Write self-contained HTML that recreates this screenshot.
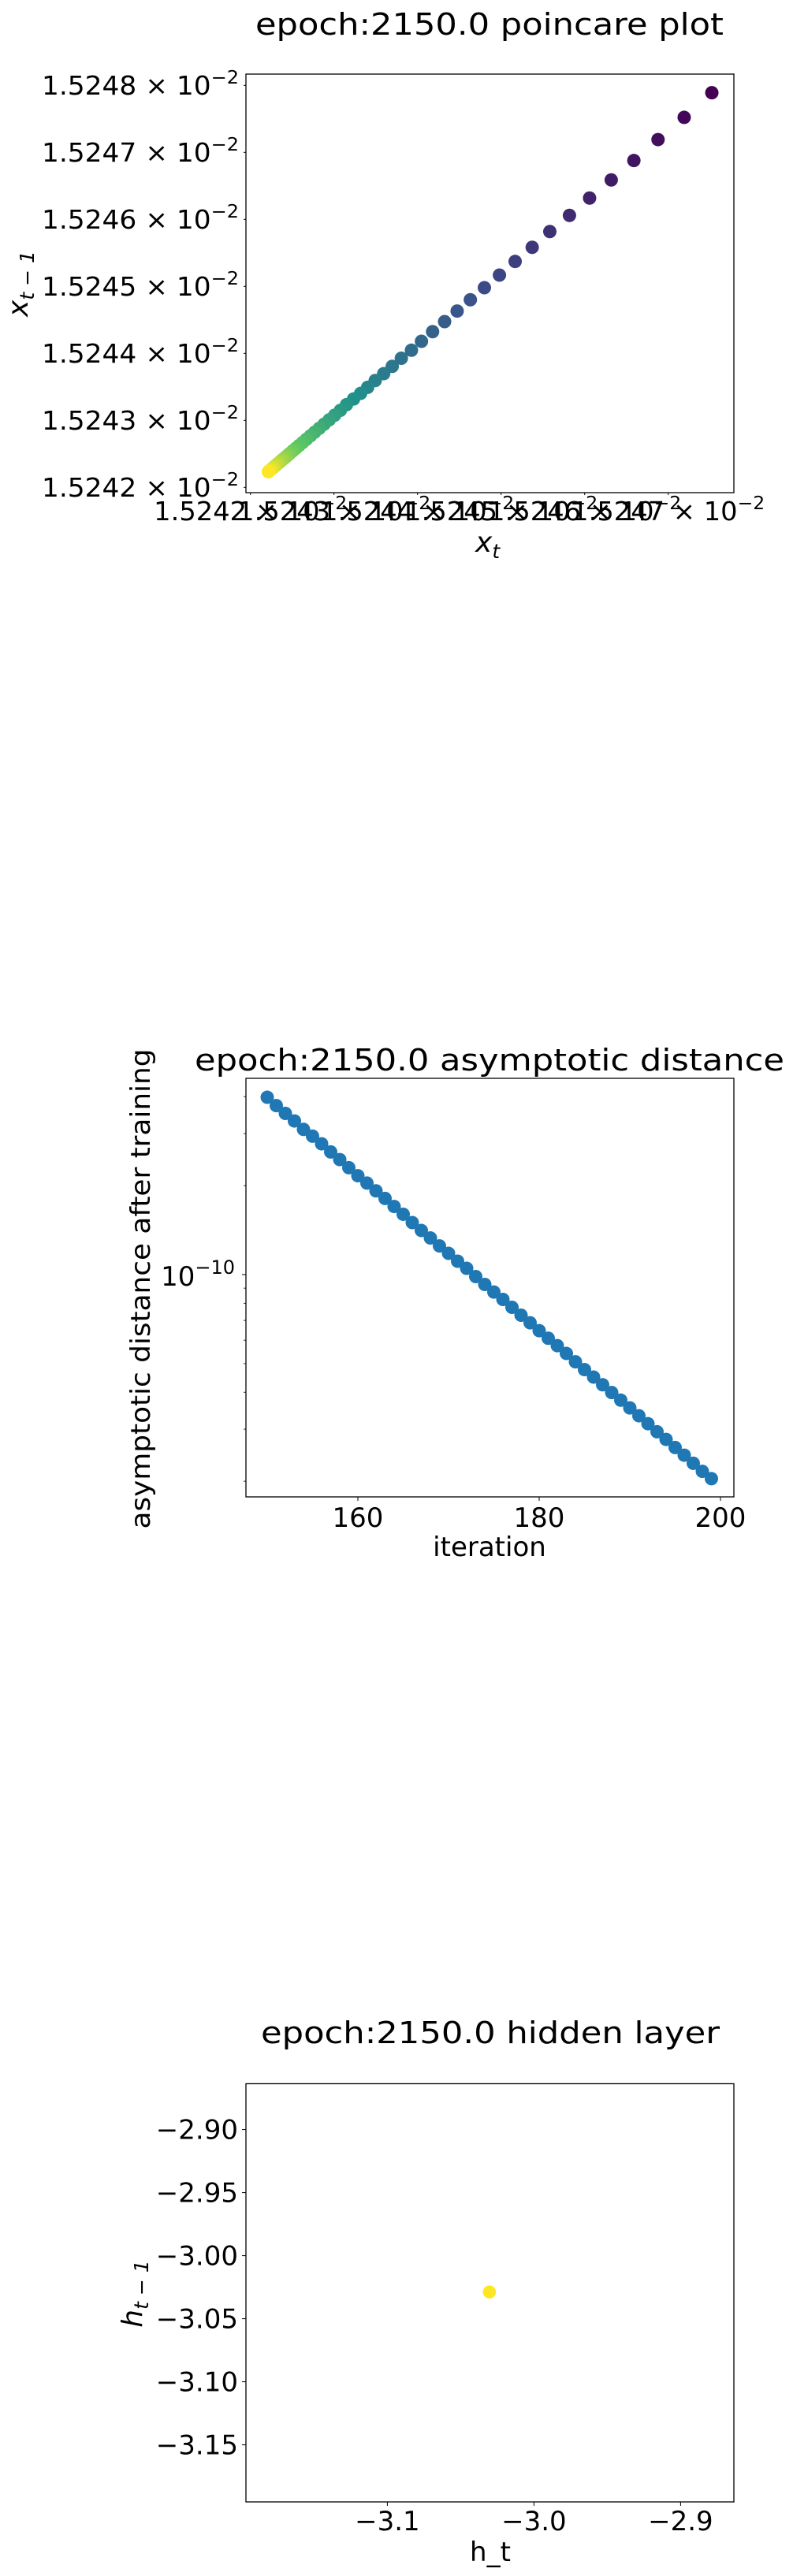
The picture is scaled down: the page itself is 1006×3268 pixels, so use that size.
<!DOCTYPE html>
<html><head><meta charset="utf-8"><title>epoch 2150 plots</title>
<style>
html,body{margin:0;padding:0;background:#fff;}
svg{display:block;font-family:"DejaVu Sans","Liberation Sans",sans-serif;}
</style></head>
<body>
<svg id="fig" width="1006" height="3268" viewBox="0 0 1006 3268" xmlns="http://www.w3.org/2000/svg">
<rect width="1006" height="3268" fill="#fff"/>
<!-- Plot 1 -->
<g>
<text x="621" y="44" font-size="38" text-anchor="middle" textLength="594" lengthAdjust="spacingAndGlyphs">epoch:2150.0 poincare plot</text>
<g id="p1ticks"></g>
<g id="p1pts"></g>
<rect x="312" y="94" width="619" height="531" fill="none" stroke="#000" stroke-width="1.3"/>
<text x="603" y="700" font-size="36" font-style="italic">x<tspan font-size="25" dy="8">t</tspan></text>
<text transform="translate(35,360) rotate(-90)" font-size="36" font-style="italic" text-anchor="middle">x<tspan font-size="25" dy="8">t − 1</tspan></text>
</g>
<!-- Plot 2 -->
<g>
<text x="621" y="1358" font-size="38" text-anchor="middle" textLength="748" lengthAdjust="spacingAndGlyphs">epoch:2150.0 asymptotic distance</text>
<g id="p2ticks"></g>
<g id="p2pts"></g>
<rect x="312" y="1368" width="619" height="531" fill="none" stroke="#000" stroke-width="1.3"/>
<text x="621" y="1974" font-size="34" text-anchor="middle">iteration</text>
<text transform="translate(190,1635) rotate(-90)" font-size="34" text-anchor="middle" textLength="609" lengthAdjust="spacingAndGlyphs">asymptotic distance after training</text>
</g>
<!-- Plot 3 -->
<g>
<text x="622" y="2592" font-size="38" text-anchor="middle" textLength="582" lengthAdjust="spacingAndGlyphs">epoch:2150.0 hidden layer</text>
<g id="p3ticks"></g>
<g id="p3pts"></g>
<rect x="312" y="2643.5" width="619" height="530.5" fill="none" stroke="#000" stroke-width="1.3"/>
<text x="622" y="3249" font-size="34" text-anchor="middle">h_t</text>
<text transform="translate(180,2910) rotate(-90)" font-size="36" font-style="italic" text-anchor="middle">h<tspan font-size="25" dy="8">t − 1</tspan></text>
</g>
</svg>
<script>
// ---------- data ----------
const poincareSeries = [1.5247890,1.5247522,1.5247191,1.5246878,1.5246589,1.5246318,1.5246059,1.5245818,1.5245583,1.5245372,1.5245168,1.5244980,1.5244800,1.5244632,1.5244474,1.5244324,1.5244180,1.5244047,1.5243927,1.5243806,1.5243697,1.5243595,1.5243493,1.5243403,1.5243319,1.5243234,1.5243150,1.5243077,1.5243008,1.5242943,1.5242882,1.5242824,1.5242769,1.5242718,1.5242670,1.5242625,1.5242583,1.5242543,1.5242505,1.5242470,1.5242438,1.5242407,1.5242377,1.5242350,1.5242323,1.5242299,1.5242276,1.5242255,1.5242234,1.5242215];
const poincareXTicks = [1.5242,1.5243,1.5244,1.5245,1.5246,1.5247];
const poincareXTickLabels = ["1.5242","1.5243","1.5244","1.5245","1.5246","1.5247"];
const poincareYTicks = [1.5242,1.5243,1.5244,1.5245,1.5246,1.5247,1.5248];
const poincareYTickLabels = ["1.5242","1.5243","1.5244","1.5245","1.5246","1.5247","1.5248"];

const iterStart = 150;
const asymDistance = [3.98e-10,3.73e-10,3.51e-10,3.31e-10,3.10e-10,2.94e-10,2.77e-10,2.60e-10,2.45e-10,2.30e-10,2.16e-10,2.04e-10,1.92e-10,1.81e-10,1.70e-10,1.60e-10,1.50e-10,1.41e-10,1.33e-10,1.25e-10,1.18e-10,1.11e-10,1.05e-10,9.85e-11,9.26e-11,8.73e-11,8.24e-11,7.75e-11,7.29e-11,6.87e-11,6.46e-11,6.09e-11,5.75e-11,5.41e-11,5.07e-11,4.77e-11,4.50e-11,4.24e-11,3.99e-11,3.76e-11,3.54e-11,3.33e-11,3.13e-11,2.94e-11,2.77e-11,2.60e-11,2.45e-11,2.30e-11,2.16e-11,2.04e-11];
const asymXTicks = [160,180,200];
const asymYMajor = [1e-10];
const asymYMinor = [2e-11,3e-11,4e-11,5e-11,6e-11,7e-11,8e-11,9e-11,2e-10,3e-10,4e-10];

const hiddenX = [-3.0304];
const hiddenY = [-3.0288];
const hiddenXTicks = [-3.1,-3.0,-2.9];
const hiddenXTickLabels = ["−3.1","−3.0","−2.9"];
const hiddenYTicks = [-2.90,-2.95,-3.00,-3.05,-3.10,-3.15];
const hiddenYTickLabels = ["−2.90","−2.95","−3.00","−3.05","−3.10","−3.15"];

// ---------- helpers ----------
const NS = "http://www.w3.org/2000/svg";
function mk(tag, attrs, parent){const e=document.createElementNS(NS,tag);for(const k in attrs)e.setAttribute(k,attrs[k]);parent.appendChild(e);return e;}
const viridisStops=[[68,1,84],[59,82,139],[33,145,140],[94,201,98],[253,231,37]];
function viridis(t){t=Math.max(0,Math.min(1,t));const s=t*4;const i=Math.min(3,Math.floor(s));const f=s-i;const a=viridisStops[i],b=viridisStops[i+1];
return "rgb("+a.map((v,k)=>Math.round(v+(b[k]-v)*f)).join(",")+")";}

// ---------- plot 1 ----------
const p1x = v => 317.7 + (v-1.5242)/0.0001*106;
const p1y = v => 618.3 - (v-1.5242)/0.0001*85;
const g1t=document.getElementById('p1ticks'), g1p=document.getElementById('p1pts');
poincareXTicks.forEach((v,i)=>{
  const x=p1x(v);
  const l=mk('line',{x1:x,x2:x,y1:625,y2:628,stroke:'#000','stroke-width':1},g1t);
  
  
  const t=mk('text',{x:x,y:660,'font-size':33,'text-anchor':'middle',textLength:245,lengthAdjust:'spacingAndGlyphs'},g1t);
  
  
  t.innerHTML=poincareXTickLabels[i]+' × 10<tspan font-size="23" dy="-14">−2</tspan>';
});
poincareYTicks.forEach((v,i)=>{
  const y=p1y(v);
  const l=mk('line',{x1:309,x2:312,y1:y,y2:y,stroke:'#000','stroke-width':1},g1t);
  
  
  const t=mk('text',{x:303,y:y+11.5,'font-size':33,'text-anchor':'end',textLength:250,lengthAdjust:'spacingAndGlyphs'},g1t);
  
  
  t.innerHTML=poincareYTickLabels[i]+' × 10<tspan font-size="23" dy="-14">−2</tspan>';
});
const nP=poincareSeries.length-1;
for(let i=0;i<nP;i++){
  const c=mk('circle',{cx:p1x(poincareSeries[i+1]),cy:p1y(poincareSeries[i]),r:8.5,fill:viridis(i/(nP-1))},g1p);
  
  
}

// ---------- plot 2 ----------
const p2x = it => 454 + (it-160)*11.5;
const p2y = v => 1617 - (Math.log10(v)+10)*375;
const g2t=document.getElementById('p2ticks'), g2p=document.getElementById('p2pts');
asymXTicks.forEach(v=>{
  const x=p2x(v);
  const l=mk('line',{x1:x,x2:x,y1:1899,y2:1904,stroke:'#000','stroke-width':1},g2t);
  
  
  const t=mk('text',{x:x,y:1937,'font-size':34,'text-anchor':'middle'},g2t);
  
  
  t.textContent=String(v);
});
asymYMajor.forEach(v=>{
  const y=p2y(v);
  const l=mk('line',{x1:307,x2:312,y1:y,y2:y,stroke:'#000','stroke-width':1},g2t);
  
  
  const t=mk('text',{x:298,y:y+14,'font-size':34,'text-anchor':'end'},g2t);
  
  
  t.innerHTML='10<tspan font-size="24" dy="-15">−10</tspan>';
});
asymYMinor.forEach(v=>{
  const y=p2y(v);
  const l=mk('line',{x1:309,x2:312,y1:y,y2:y,stroke:'#000','stroke-width':0.8},g2t);
  
  
});
asymDistance.forEach((v,i)=>{
  const c=mk('circle',{cx:p2x(iterStart+i),cy:p2y(v),r:8.5,fill:'#1f77b4'},g2p);
  
  
});

// ---------- plot 3 ----------
const p3x = v => 677.4 + (v+3.0)*1860;
const p3y = v => 2861.6 - (v+3.0)*1600;
const g3t=document.getElementById('p3ticks'), g3p=document.getElementById('p3pts');
hiddenXTicks.forEach((v,i)=>{
  const x=p3x(v);
  const l=mk('line',{x1:x,x2:x,y1:3174,y2:3179,stroke:'#000','stroke-width':1},g3t);
  
  
  const t=mk('text',{x:x,y:3210,'font-size':34,'text-anchor':'middle'},g3t);
  
  
  t.textContent=hiddenXTickLabels[i];
});
hiddenYTicks.forEach((v,i)=>{
  const y=p3y(v);
  const l=mk('line',{x1:307,x2:312,y1:y,y2:y,stroke:'#000','stroke-width':1},g3t);
  
  
  const t=mk('text',{x:302,y:y+12,'font-size':34,'text-anchor':'end'},g3t);
  
  
  t.textContent=hiddenYTickLabels[i];
});
hiddenX.forEach((v,i)=>{
  const c=mk('circle',{cx:p3x(v),cy:p3y(hiddenY[i]),r:8.3,fill:'#fde725'},g3p);
  
  
});
</script>
</body></html>
